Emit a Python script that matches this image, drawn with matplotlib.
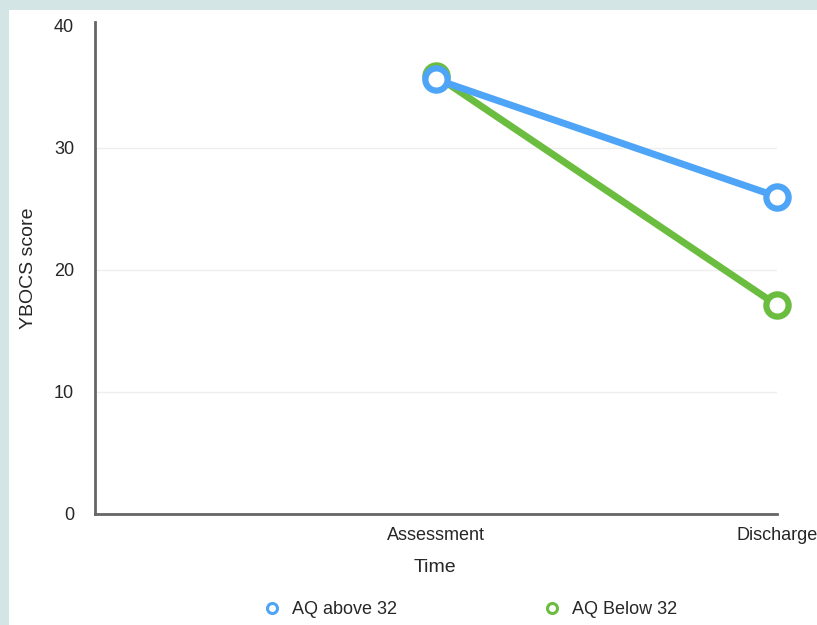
import matplotlib
matplotlib.use("Agg")
import matplotlib.pyplot as plt
from matplotlib.patches import Rectangle

categories = ["Assessment", "Discharge"]
aq_above = [35.6, 26.0]
aq_below = [35.9, 17.1]
yticks = [0, 10, 20, 30, 40]

plt.rcParams['font.family'] = ['Liberation Sans', 'DejaVu Sans']

fig = plt.figure(figsize=(8.17, 6.25), dpi=100, facecolor="#d3e6e5")
fig.patches.append(Rectangle((9/817, 0), 1 - 9/817, 1 - 10/625, transform=fig.transFigure,
                             facecolor="white", edgecolor="none", zorder=-10))

ax = fig.add_axes([95/817, 1 - 514/625, (777 - 95)/817, (514 - 22)/625])
ax.set_zorder(2)
ax.set_facecolor("white")
x = [1, 2]
blue = "#4ea4f6"
green = "#6bbd3f"
ax.plot(x, aq_below, color=green, lw=5, marker="o", ms=16, mfc="white", mec=green, mew=4.5,
        label="AQ Below 32", zorder=3, clip_on=False)
ax.plot(x, aq_above, color=blue, lw=5, marker="o", ms=16, mfc="white", mec=blue, mew=4.5,
        label="AQ above 32", zorder=4, clip_on=False)

txt = "#262626"
ax.set_xlim(0, 2)
ax.set_ylim(0, 40.3)
ax.set_xticks(x)
ax.set_xticklabels(categories, fontsize=13, color=txt)
ax.set_yticks(yticks)
ax.set_yticklabels([str(t) for t in yticks], fontsize=13, color=txt)
ax.tick_params(axis="both", length=0)
ax.tick_params(axis="y", pad=15)
ax.tick_params(axis="x", pad=9)
for t in [10, 20, 30]:
    ax.axhline(t, color="#eeeeee", lw=1, zorder=1)
for s in ["top", "right"]:
    ax.spines[s].set_visible(False)
for s in ["left", "bottom"]:
    ax.spines[s].set_color("#666666")
    ax.spines[s].set_linewidth(2)
ax.set_xlabel("Time", fontsize=14, color=txt)
ax.set_ylabel("YBOCS score", fontsize=14, color=txt)
ax.xaxis.set_label_coords((435 - 95)/682, -(559 - 514)/492)
ax.yaxis.set_label_coords(-(95 - 37)/682, (514 - 268)/492)

h, l = ax.get_legend_handles_labels()
leg = fig.legend([h[1], h[0]], [l[1], l[0]], loc="center", bbox_to_anchor=(470/817, 1 - 610/625),
                 ncol=2, frameon=False, fontsize=13, columnspacing=8.1, handlelength=1.0,
                 handletextpad=0.6, markerscale=0.45)
for line in leg.get_lines():
    line.set_linestyle("none")
    line.set_markeredgewidth(2.2)
for t in leg.get_texts():
    t.set_color(txt)

fig.savefig("out.png", dpi=100, facecolor=fig.get_facecolor())
